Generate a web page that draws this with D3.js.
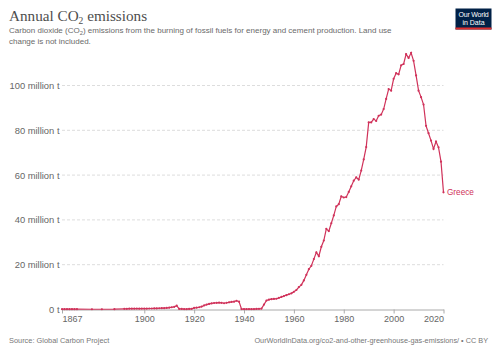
<!DOCTYPE html>
<html>
<head>
<meta charset="utf-8">
<script src="https://cdn.jsdelivr.net/npm/d3@7"></script>
<style>
  body { margin: 0; background: #fff; }
  svg { display: block; font-family: "Liberation Sans", Arial, sans-serif; }
</style>
</head>
<body>
<svg id="chart" width="500" height="353"></svg>
<script>
// Greece, annual CO2 emissions (million tonnes)
const years = [
  1867, 1868, 1869, 1870, 1871, 1872, 1873, 1879, 1883, 1888,
  1892, 1893, 1894, 1895, 1896, 1897, 1898, 1899, 1900,
  1901, 1902, 1903, 1904, 1905, 1906, 1907, 1908, 1909, 1910,
  1911, 1912, 1913, 1914, 1915, 1916, 1917, 1918, 1919, 1920,
  1921, 1922, 1923, 1924, 1925, 1926, 1927, 1928, 1929, 1930,
  1931, 1932, 1933, 1934, 1935, 1936, 1937, 1938, 1939, 1940,
  1941, 1942, 1943, 1944, 1945, 1946, 1947, 1948, 1949, 1950,
  1951, 1952, 1953, 1954, 1955, 1956, 1957, 1958, 1959, 1960,
  1961, 1962, 1963, 1964, 1965, 1966, 1967, 1968, 1969, 1970,
  1971, 1972, 1973, 1974, 1975, 1976, 1977, 1978, 1979, 1980,
  1981, 1982, 1983, 1984, 1985, 1986, 1987, 1988, 1989, 1990,
  1991, 1992, 1993, 1994, 1995, 1996, 1997, 1998, 1999, 2000,
  2001, 2002, 2003, 2004, 2005, 2006, 2007, 2008, 2009, 2010,
  2011, 2012, 2013, 2014, 2015, 2016, 2017, 2018, 2019, 2020
];
const emissions = [
  0.15, 0.15, 0.15, 0.15, 0.15, 0.15, 0.15, 0.12, 0.12, 0.15,
  0.3, 0.3, 0.35, 0.35, 0.35, 0.4, 0.35, 0.4, 0.4,
  0.4, 0.45, 0.45, 0.5, 0.5, 0.55, 0.6, 0.6, 0.7, 0.8,
  1.0, 1.2, 1.7, 0.25, 0.25, 0.2, 0.2, 0.25, 0.3, 0.7,
  0.8, 1.0, 1.3, 1.8, 2.2, 2.5, 2.7, 2.9, 3.0, 3.1,
  3.0, 2.8, 3.0, 3.2, 3.4, 3.5, 3.9, 3.5, 0.2, 0.2,
  0.2, 0.2, 0.2, 0.2, 0.25, 0.3, 0.4, 2.2, 4.0, 4.4,
  4.6, 4.7, 4.8, 5.2, 5.6, 6.0, 6.4, 6.8, 7.2, 7.9,
  8.7, 10.0, 11.0, 13.0, 15.5, 18.0, 19.5, 22.5, 25.5, 23.8,
  28.0, 30.8, 36.0, 35.0, 38.5, 42.0, 46.0, 47.0, 50.5, 50.0,
  50.2, 52.5, 55.0, 57.5, 59.0, 58.0, 62.0, 67.0, 72.5, 83.5,
  83.5, 85.0, 84.2, 86.5, 87.0, 89.5, 94.0, 98.4, 97.7, 103.0,
  105.5, 105.0, 109.0, 109.6, 114.0, 112.3, 114.6, 111.0, 104.5, 97.7,
  94.8, 91.5, 82.0, 78.7, 75.4, 71.7, 75.0, 72.4, 66.0, 52.3
];
const yTicks = [0, 20, 40, 60, 80, 100];
const xTicks = [1867, 1900, 1920, 1940, 1960, 1980, 2000, 2020];
const entity = "Greece";

const data = years.map((y, i) => ({ year: y, value: emissions[i] }));

const lineColor = "#d0325a";
const svg = d3.select("#chart");

const x = d3.scaleLinear()
  .domain(d3.extent(years))
  .range([62, 443.5]);
const y = d3.scaleLinear()
  .domain([0, 100])
  .range([309.5, 85.5]);

// title + subtitle
const title = svg.append("text")
  .attr("x", 9).attr("y", 20.5)
  .attr("font-family", "'Liberation Serif', 'Times New Roman', serif")
  .attr("font-size", 15.2)
  .attr("fill", "#4e4e4e");
title.append("tspan").text("Annual CO");
title.append("tspan").attr("font-size", 9.5).attr("dy", 3).text("2");
title.append("tspan").attr("dy", -3).text(" emissions");

const sub1 = svg.append("text")
  .attr("x", 9).attr("y", 33)
  .attr("font-size", 8)
  .attr("fill", "#6a6a6a");
sub1.append("tspan").text("Carbon dioxide (CO");
sub1.append("tspan").attr("font-size", 5.8).attr("dy", 1.8).text("2");
sub1.append("tspan").attr("dy", -1.8).text(") emissions from the burning of fossil fuels for energy and cement production. Land use");
svg.append("text")
  .attr("x", 9).attr("y", 43.5)
  .attr("font-size", 8)
  .attr("fill", "#6a6a6a")
  .text("change is not included.");

// logo
const logo = svg.append("g").attr("transform", "translate(455.5,8.5)");
logo.append("rect").attr("width", 36).attr("height", 21).attr("fill", "#002147");
logo.append("rect").attr("y", 19).attr("width", 36).attr("height", 2).attr("fill", "#dc2d2d");
logo.append("text").attr("x", 18).attr("y", 8.5).attr("text-anchor", "middle")
  .attr("font-size", 7).attr("fill", "#fff").attr("letter-spacing", -0.2).text("Our World");
logo.append("text").attr("x", 18).attr("y", 16.3).attr("text-anchor", "middle")
  .attr("font-size", 7).attr("fill", "#fff").text("in Data");

// y grid + labels
svg.append("g")
  .selectAll("line")
  .data(yTicks.filter(d => d > 0))
  .join("line")
  .attr("x1", 62).attr("x2", 443.5)
  .attr("y1", d => y(d)).attr("y2", d => y(d))
  .attr("stroke", "#dddddd")
  .attr("stroke-dasharray", "3,2");

svg.append("g")
  .selectAll("text")
  .data(yTicks)
  .join("text")
  .attr("x", 59.5)
  .attr("y", d => y(d) + 3.4)
  .attr("text-anchor", "end")
  .attr("font-size", 9.4)
  .attr("fill", "#666")
  .text(d => d === 0 ? "0 t" : d + " million t");

// x axis
const xAxis = svg.append("g")
  .attr("transform", "translate(0," + y(0) + ")")
  .call(d3.axisBottom(x).tickValues(xTicks).tickFormat(d3.format("d")).tickSize(4).tickSizeOuter(0));
xAxis.select(".domain").attr("stroke", "#aaa");
xAxis.selectAll(".tick line").attr("stroke", "#aaa");
xAxis.selectAll(".tick text")
  .attr("font-family", "'Liberation Sans', Arial, sans-serif")
  .attr("font-size", 9)
  .attr("fill", "#666")
  .attr("dy", "0.6em");
xAxis.selectAll(".tick").filter(d => d === 1867).select("text").attr("text-anchor", "start");
xAxis.selectAll(".tick").filter(d => d === 2020).select("text").attr("text-anchor", "end");

// line + markers
const line = d3.line()
  .x(d => x(d.year))
  .y(d => y(d.value));

svg.append("path")
  .datum(data)
  .attr("d", line)
  .attr("fill", "none")
  .attr("stroke", lineColor)
  .attr("stroke-width", 1.2);

svg.append("g")
  .selectAll("circle")
  .data(data)
  .join("circle")
  .attr("cx", d => x(d.year))
  .attr("cy", d => y(d.value))
  .attr("r", 1.1)
  .attr("fill", lineColor);

const last = data[data.length - 1];
svg.append("text")
  .attr("x", x(last.year) + 3.5)
  .attr("y", y(last.value) + 3)
  .attr("font-size", 8.2)
  .attr("fill", lineColor)
  .text(entity);

// footer
svg.append("text")
  .attr("x", 9).attr("y", 343)
  .attr("font-size", 7.4)
  .attr("fill", "#777")
  .text("Source: Global Carbon Project");
svg.append("text")
  .attr("x", 488).attr("y", 343)
  .attr("text-anchor", "end")
  .attr("font-size", 7.3)
  .attr("fill", "#777")
  .text("OurWorldInData.org/co2-and-other-greenhouse-gas-emissions/ • CC BY");
</script>
</body>
</html>
